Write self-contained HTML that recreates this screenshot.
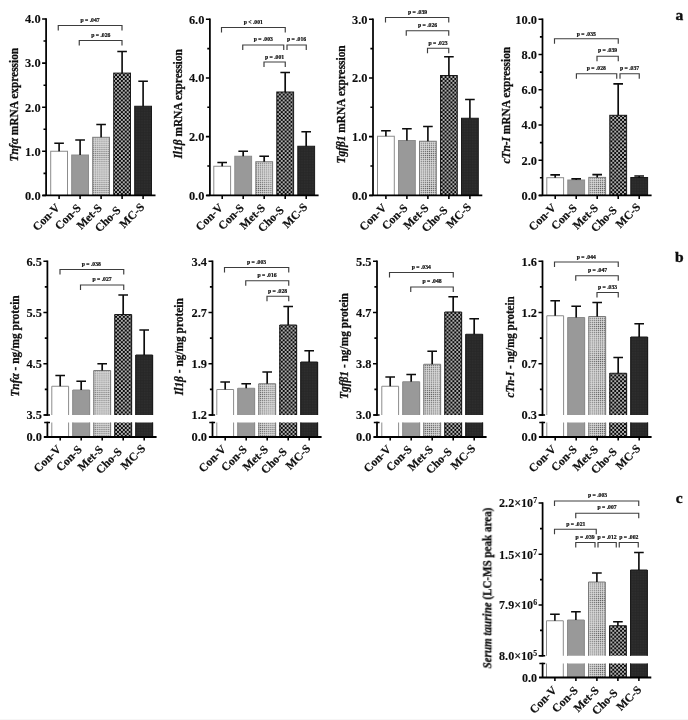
<!DOCTYPE html>
<html lang="en"><head><meta charset="utf-8"><title>Figure</title>
<style>
html,body{margin:0;padding:0;background:#fff}
svg{display:block;will-change:transform}
text{font-family:"Liberation Serif",serif;fill:#111}
.t{font-size:13px;font-weight:bold;stroke:#111;stroke-width:0.12px}
.x{font-size:11.6px;font-weight:bold;fill:#111;stroke:#111;stroke-width:0.2px}
.p{font-size:5.7px;font-weight:bold;fill:#111;stroke:#111;stroke-width:0.22px}
.y{font-size:12.7px;font-weight:bold;stroke:#111;stroke-width:0.3px}
.i{font-style:italic}
.s{font-size:8.5px}
.L{font-size:15.5px;font-weight:bold;stroke:#111;stroke-width:0.4px}
</style></head><body>
<svg width="688" height="720" viewBox="0 0 688 720">
<defs>
<pattern id="p3" width="2.06" height="2.06" patternUnits="userSpaceOnUse"><rect width="2.06" height="2.06" fill="#e0e0e0"/><rect x="0.5" y="0.5" width="1.06" height="1.06" fill="#5a5a5a"/></pattern>
<pattern id="p4" width="3.9" height="3.9" patternUnits="userSpaceOnUse"><rect width="3.9" height="3.9" fill="#0a0a0a"/><circle cx="0.975" cy="0.975" r="0.86" fill="#fff"/><circle cx="2.925" cy="2.925" r="0.86" fill="#fff"/></pattern>
<pattern id="p5" width="1.6" height="1.6" patternUnits="userSpaceOnUse"><rect width="1.6" height="1.6" fill="#222"/><rect x="0.4" y="0.4" width="0.6" height="0.6" fill="#555"/></pattern>
<filter id="soft" x="0" y="0" width="688" height="720" filterUnits="userSpaceOnUse"><feGaussianBlur stdDeviation="0.3"/></filter>
</defs>
<rect width="688" height="720" fill="#fff"/>
<rect x="0" y="719" width="688" height="1" fill="#f6f6f6"/>
<g>
<rect x="50.70" y="151.25" width="16.80" height="44.15" fill="#fff" stroke="#8c8c8c" stroke-width="1"/>
<rect x="71.70" y="155.00" width="16.80" height="40.40" fill="#999" stroke="#8c8c8c" stroke-width="1"/>
<rect x="92.70" y="137.30" width="16.80" height="58.10" fill="url(#p3)" stroke="#7a7a7a" stroke-width="1"/>
<rect x="113.70" y="73.10" width="16.80" height="122.30" fill="url(#p4)" stroke="#1a1a1a" stroke-width="1"/>
<rect x="134.70" y="106.25" width="16.80" height="89.15" fill="url(#p5)" stroke="#1a1a1a" stroke-width="1"/>
<rect x="213.80" y="166.25" width="16.80" height="29.15" fill="#fff" stroke="#8c8c8c" stroke-width="1"/>
<rect x="234.80" y="156.25" width="16.80" height="39.15" fill="#999" stroke="#8c8c8c" stroke-width="1"/>
<rect x="255.80" y="161.75" width="16.80" height="33.65" fill="url(#p3)" stroke="#7a7a7a" stroke-width="1"/>
<rect x="276.80" y="92.00" width="16.80" height="103.40" fill="url(#p4)" stroke="#1a1a1a" stroke-width="1"/>
<rect x="297.80" y="146.25" width="16.80" height="49.15" fill="url(#p5)" stroke="#1a1a1a" stroke-width="1"/>
<rect x="377.50" y="136.25" width="16.80" height="59.15" fill="#fff" stroke="#8c8c8c" stroke-width="1"/>
<rect x="398.50" y="140.50" width="16.80" height="54.90" fill="#999" stroke="#8c8c8c" stroke-width="1"/>
<rect x="419.50" y="141.25" width="16.80" height="54.15" fill="url(#p3)" stroke="#7a7a7a" stroke-width="1"/>
<rect x="440.50" y="75.50" width="16.80" height="119.90" fill="url(#p4)" stroke="#1a1a1a" stroke-width="1"/>
<rect x="461.50" y="118.25" width="16.80" height="77.15" fill="url(#p5)" stroke="#1a1a1a" stroke-width="1"/>
<rect x="546.80" y="177.70" width="16.80" height="17.70" fill="#fff" stroke="#8c8c8c" stroke-width="1"/>
<rect x="567.80" y="180.00" width="16.80" height="15.40" fill="#999" stroke="#8c8c8c" stroke-width="1"/>
<rect x="588.80" y="177.40" width="16.80" height="18.00" fill="url(#p3)" stroke="#7a7a7a" stroke-width="1"/>
<rect x="609.80" y="115.30" width="16.80" height="80.10" fill="url(#p4)" stroke="#1a1a1a" stroke-width="1"/>
<rect x="630.80" y="177.50" width="16.80" height="17.90" fill="url(#p5)" stroke="#1a1a1a" stroke-width="1"/>
<rect x="51.30" y="386.25" width="17.80" height="28.75" fill="#fff"/>
<rect x="51.30" y="422.50" width="17.80" height="14.50" fill="#fff"/>
<path d="M51.80 415.00V386.25H68.60V415.00M51.80 422.50V437.00M68.60 422.50V437.00" fill="none" stroke="#8c8c8c" stroke-width="1"/>
<rect x="72.30" y="390.00" width="17.80" height="25.00" fill="#999"/>
<rect x="72.30" y="422.50" width="17.80" height="14.50" fill="#999"/>
<path d="M72.80 415.00V390.00H89.60V415.00M72.80 422.50V437.00M89.60 422.50V437.00" fill="none" stroke="#8c8c8c" stroke-width="1"/>
<rect x="93.30" y="370.50" width="17.80" height="44.50" fill="url(#p3)"/>
<rect x="93.30" y="422.50" width="17.80" height="14.50" fill="url(#p3)"/>
<path d="M93.80 415.00V370.50H110.60V415.00M93.80 422.50V437.00M110.60 422.50V437.00" fill="none" stroke="#7a7a7a" stroke-width="1"/>
<rect x="114.30" y="314.50" width="17.80" height="100.50" fill="url(#p4)"/>
<rect x="114.30" y="422.50" width="17.80" height="14.50" fill="url(#p4)"/>
<path d="M114.80 415.00V314.50H131.60V415.00M114.80 422.50V437.00M131.60 422.50V437.00" fill="none" stroke="#1a1a1a" stroke-width="1"/>
<rect x="135.30" y="355.00" width="17.80" height="60.00" fill="url(#p5)"/>
<rect x="135.30" y="422.50" width="17.80" height="14.50" fill="url(#p5)"/>
<path d="M135.80 415.00V355.00H152.60V415.00M135.80 422.50V437.00M152.60 422.50V437.00" fill="none" stroke="#1a1a1a" stroke-width="1"/>
<rect x="216.30" y="389.50" width="17.80" height="25.50" fill="#fff"/>
<rect x="216.30" y="422.50" width="17.80" height="14.50" fill="#fff"/>
<path d="M216.80 415.00V389.50H233.60V415.00M216.80 422.50V437.00M233.60 422.50V437.00" fill="none" stroke="#8c8c8c" stroke-width="1"/>
<rect x="237.30" y="388.25" width="17.80" height="26.75" fill="#999"/>
<rect x="237.30" y="422.50" width="17.80" height="14.50" fill="#999"/>
<path d="M237.80 415.00V388.25H254.60V415.00M237.80 422.50V437.00M254.60 422.50V437.00" fill="none" stroke="#8c8c8c" stroke-width="1"/>
<rect x="258.30" y="383.75" width="17.80" height="31.25" fill="url(#p3)"/>
<rect x="258.30" y="422.50" width="17.80" height="14.50" fill="url(#p3)"/>
<path d="M258.80 415.00V383.75H275.60V415.00M258.80 422.50V437.00M275.60 422.50V437.00" fill="none" stroke="#7a7a7a" stroke-width="1"/>
<rect x="279.30" y="325.00" width="17.80" height="90.00" fill="url(#p4)"/>
<rect x="279.30" y="422.50" width="17.80" height="14.50" fill="url(#p4)"/>
<path d="M279.80 415.00V325.00H296.60V415.00M279.80 422.50V437.00M296.60 422.50V437.00" fill="none" stroke="#1a1a1a" stroke-width="1"/>
<rect x="300.30" y="362.00" width="17.80" height="53.00" fill="url(#p5)"/>
<rect x="300.30" y="422.50" width="17.80" height="14.50" fill="url(#p5)"/>
<path d="M300.80 415.00V362.00H317.60V415.00M300.80 422.50V437.00M317.60 422.50V437.00" fill="none" stroke="#1a1a1a" stroke-width="1"/>
<rect x="381.30" y="386.25" width="17.80" height="28.75" fill="#fff"/>
<rect x="381.30" y="422.50" width="17.80" height="14.50" fill="#fff"/>
<path d="M381.80 415.00V386.25H398.60V415.00M381.80 422.50V437.00M398.60 422.50V437.00" fill="none" stroke="#8c8c8c" stroke-width="1"/>
<rect x="402.30" y="381.75" width="17.80" height="33.25" fill="#999"/>
<rect x="402.30" y="422.50" width="17.80" height="14.50" fill="#999"/>
<path d="M402.80 415.00V381.75H419.60V415.00M402.80 422.50V437.00M419.60 422.50V437.00" fill="none" stroke="#8c8c8c" stroke-width="1"/>
<rect x="423.30" y="364.25" width="17.80" height="50.75" fill="url(#p3)"/>
<rect x="423.30" y="422.50" width="17.80" height="14.50" fill="url(#p3)"/>
<path d="M423.80 415.00V364.25H440.60V415.00M423.80 422.50V437.00M440.60 422.50V437.00" fill="none" stroke="#7a7a7a" stroke-width="1"/>
<rect x="444.30" y="312.00" width="17.80" height="103.00" fill="url(#p4)"/>
<rect x="444.30" y="422.50" width="17.80" height="14.50" fill="url(#p4)"/>
<path d="M444.80 415.00V312.00H461.60V415.00M444.80 422.50V437.00M461.60 422.50V437.00" fill="none" stroke="#1a1a1a" stroke-width="1"/>
<rect x="465.30" y="334.25" width="17.80" height="80.75" fill="url(#p5)"/>
<rect x="465.30" y="422.50" width="17.80" height="14.50" fill="url(#p5)"/>
<path d="M465.80 415.00V334.25H482.60V415.00M465.80 422.50V437.00M482.60 422.50V437.00" fill="none" stroke="#1a1a1a" stroke-width="1"/>
<rect x="546.30" y="315.75" width="17.80" height="99.25" fill="#fff"/>
<rect x="546.30" y="422.50" width="17.80" height="14.50" fill="#fff"/>
<path d="M546.80 415.00V315.75H563.60V415.00M546.80 422.50V437.00M563.60 422.50V437.00" fill="none" stroke="#8c8c8c" stroke-width="1"/>
<rect x="567.30" y="317.50" width="17.80" height="97.50" fill="#999"/>
<rect x="567.30" y="422.50" width="17.80" height="14.50" fill="#999"/>
<path d="M567.80 415.00V317.50H584.60V415.00M567.80 422.50V437.00M584.60 422.50V437.00" fill="none" stroke="#8c8c8c" stroke-width="1"/>
<rect x="588.30" y="316.50" width="17.80" height="98.50" fill="url(#p3)"/>
<rect x="588.30" y="422.50" width="17.80" height="14.50" fill="url(#p3)"/>
<path d="M588.80 415.00V316.50H605.60V415.00M588.80 422.50V437.00M605.60 422.50V437.00" fill="none" stroke="#7a7a7a" stroke-width="1"/>
<rect x="609.30" y="373.25" width="17.80" height="41.75" fill="url(#p4)"/>
<rect x="609.30" y="422.50" width="17.80" height="14.50" fill="url(#p4)"/>
<path d="M609.80 415.00V373.25H626.60V415.00M609.80 422.50V437.00M626.60 422.50V437.00" fill="none" stroke="#1a1a1a" stroke-width="1"/>
<rect x="630.30" y="337.00" width="17.80" height="78.00" fill="url(#p5)"/>
<rect x="630.30" y="422.50" width="17.80" height="14.50" fill="url(#p5)"/>
<path d="M630.80 415.00V337.00H647.60V415.00M630.80 422.50V437.00M647.60 422.50V437.00" fill="none" stroke="#1a1a1a" stroke-width="1"/>
<rect x="546.00" y="620.75" width="17.80" height="35.00" fill="#fff"/>
<rect x="546.00" y="663.50" width="17.80" height="14.00" fill="#fff"/>
<path d="M546.50 655.75V620.75H563.30V655.75M546.50 663.50V677.50M563.30 663.50V677.50" fill="none" stroke="#8c8c8c" stroke-width="1"/>
<rect x="567.00" y="620.00" width="17.80" height="35.75" fill="#999"/>
<rect x="567.00" y="663.50" width="17.80" height="14.00" fill="#999"/>
<path d="M567.50 655.75V620.00H584.30V655.75M567.50 663.50V677.50M584.30 663.50V677.50" fill="none" stroke="#8c8c8c" stroke-width="1"/>
<rect x="588.00" y="582.00" width="17.80" height="73.75" fill="url(#p3)"/>
<rect x="588.00" y="663.50" width="17.80" height="14.00" fill="url(#p3)"/>
<path d="M588.50 655.75V582.00H605.30V655.75M588.50 663.50V677.50M605.30 663.50V677.50" fill="none" stroke="#7a7a7a" stroke-width="1"/>
<rect x="609.00" y="625.75" width="17.80" height="30.00" fill="url(#p4)"/>
<rect x="609.00" y="663.50" width="17.80" height="14.00" fill="url(#p4)"/>
<path d="M609.50 655.75V625.75H626.30V655.75M609.50 663.50V677.50M626.30 663.50V677.50" fill="none" stroke="#1a1a1a" stroke-width="1"/>
<rect x="630.00" y="570.00" width="17.80" height="85.75" fill="url(#p5)"/>
<rect x="630.00" y="663.50" width="17.80" height="14.00" fill="url(#p5)"/>
<path d="M630.50 655.75V570.00H647.30V655.75M630.50 663.50V677.50M647.30 663.50V677.50" fill="none" stroke="#1a1a1a" stroke-width="1"/>
</g>
<g filter="url(#soft)">
<path d="M59.10 151.25V143.25M54.30 143.25H63.90" stroke="#0a0a0a" stroke-width="1.65" fill="none"/>
<path d="M80.10 155.00V140.00M75.30 140.00H84.90" stroke="#0a0a0a" stroke-width="1.65" fill="none"/>
<path d="M101.10 137.30V124.50M96.30 124.50H105.90" stroke="#0a0a0a" stroke-width="1.65" fill="none"/>
<path d="M122.10 73.10V51.50M117.30 51.50H126.90" stroke="#0a0a0a" stroke-width="1.65" fill="none"/>
<path d="M143.10 106.25V81.25M138.30 81.25H147.90" stroke="#0a0a0a" stroke-width="1.65" fill="none"/>
<path d="M46.10 18.20V195.40" stroke="#050505" stroke-width="1.75" fill="none"/>
<path d="M42.50 195.40H155.50" stroke="#050505" stroke-width="1.8" fill="none"/>
<path d="M42.10 19.00H46.10M42.10 63.10H46.10M42.10 107.20H46.10M42.10 151.30H46.10M42.10 195.40H46.10M43.50 41.05H46.10M43.50 85.15H46.10M43.50 129.25H46.10M43.50 173.35H46.10" stroke="#050505" stroke-width="1.55" fill="none"/>
<text transform="translate(40.60 23.30) scale(0.955 1)" text-anchor="end" class="t">4.0</text>
<text transform="translate(40.60 67.40) scale(0.955 1)" text-anchor="end" class="t">3.0</text>
<text transform="translate(40.60 111.50) scale(0.955 1)" text-anchor="end" class="t">2.0</text>
<text transform="translate(40.60 155.60) scale(0.955 1)" text-anchor="end" class="t">1.0</text>
<text transform="translate(40.60 199.70) scale(0.955 1)" text-anchor="end" class="t">0.0</text>
<path d="M59.10 195.40V199.00M80.10 195.40V199.00M101.10 195.40V199.00M122.10 195.40V199.00M143.10 195.40V199.00" stroke="#050505" stroke-width="1.55" fill="none"/>
<text transform="translate(60.50 208.20) rotate(-45)" text-anchor="end" class="x">Con-V</text>
<text transform="translate(81.50 208.60) rotate(-45)" text-anchor="end" class="x">Con-S</text>
<text transform="translate(102.60 208.60) rotate(-45)" text-anchor="end" class="x">Met-S</text>
<text transform="translate(121.40 210.90) rotate(-45)" text-anchor="end" class="x">Cho-S</text>
<text transform="translate(145.00 207.70) rotate(-45)" text-anchor="end" class="x">MC-S</text>
<path d="M58.25 30.50V25.50H122.00V30.50" stroke="#3c3c3c" stroke-width="1.15" fill="none"/>
<text x="90.00" y="21.90" text-anchor="middle" class="p">p = .047</text>
<path d="M79.25 45.50V40.50H122.00V45.50" stroke="#3c3c3c" stroke-width="1.15" fill="none"/>
<text x="100.75" y="36.90" text-anchor="middle" class="p">p = .026</text>
<text transform="translate(17.60 104.60) rotate(-90) scale(0.898 1)" text-anchor="middle" class="y"><tspan class="i">Tnfα</tspan> mRNA expression</text>
<path d="M222.20 166.25V162.50M217.40 162.50H227.00" stroke="#0a0a0a" stroke-width="1.65" fill="none"/>
<path d="M243.20 156.25V151.25M238.40 151.25H248.00" stroke="#0a0a0a" stroke-width="1.65" fill="none"/>
<path d="M264.20 161.75V156.25M259.40 156.25H269.00" stroke="#0a0a0a" stroke-width="1.65" fill="none"/>
<path d="M285.20 92.00V72.50M280.40 72.50H290.00" stroke="#0a0a0a" stroke-width="1.65" fill="none"/>
<path d="M306.20 146.25V131.75M301.40 131.75H311.00" stroke="#0a0a0a" stroke-width="1.65" fill="none"/>
<path d="M209.90 18.45V195.40" stroke="#050505" stroke-width="1.75" fill="none"/>
<path d="M206.30 195.40H318.60" stroke="#050505" stroke-width="1.8" fill="none"/>
<path d="M205.90 19.25H209.90M205.90 78.00H209.90M205.90 136.60H209.90M205.90 195.40H209.90M207.30 48.62H209.90M207.30 107.30H209.90M207.30 166.00H209.90" stroke="#050505" stroke-width="1.55" fill="none"/>
<text transform="translate(204.40 23.55) scale(0.955 1)" text-anchor="end" class="t">6.0</text>
<text transform="translate(204.40 82.30) scale(0.955 1)" text-anchor="end" class="t">4.0</text>
<text transform="translate(204.40 140.90) scale(0.955 1)" text-anchor="end" class="t">2.0</text>
<text transform="translate(204.40 199.70) scale(0.955 1)" text-anchor="end" class="t">0.0</text>
<path d="M222.20 195.40V199.00M243.20 195.40V199.00M264.20 195.40V199.00M285.20 195.40V199.00M306.20 195.40V199.00" stroke="#050505" stroke-width="1.55" fill="none"/>
<text transform="translate(223.60 208.20) rotate(-45)" text-anchor="end" class="x">Con-V</text>
<text transform="translate(244.60 208.60) rotate(-45)" text-anchor="end" class="x">Con-S</text>
<text transform="translate(265.70 208.60) rotate(-45)" text-anchor="end" class="x">Met-S</text>
<text transform="translate(284.50 210.90) rotate(-45)" text-anchor="end" class="x">Cho-S</text>
<text transform="translate(308.10 207.70) rotate(-45)" text-anchor="end" class="x">MC-S</text>
<path d="M221.50 32.50V27.50H285.25V32.50" stroke="#3c3c3c" stroke-width="1.15" fill="none"/>
<text x="253.25" y="23.65" text-anchor="middle" class="p">p &lt; .001</text>
<path d="M242.75 50.00V45.00H283.75V50.00" stroke="#3c3c3c" stroke-width="1.15" fill="none"/>
<text x="263.25" y="41.15" text-anchor="middle" class="p">p = .003</text>
<path d="M287.00 50.00V45.00H306.25V50.00" stroke="#3c3c3c" stroke-width="1.15" fill="none"/>
<text x="296.50" y="41.15" text-anchor="middle" class="p">p = .016</text>
<path d="M264.00 67.00V62.00H285.25V67.00" stroke="#3c3c3c" stroke-width="1.15" fill="none"/>
<text x="274.50" y="58.65" text-anchor="middle" class="p">p = .001</text>
<text transform="translate(182.10 103.90) rotate(-90) scale(0.898 1)" text-anchor="middle" class="y"><tspan class="i">Il1β</tspan> mRNA expression</text>
<path d="M385.90 136.25V130.75M381.10 130.75H390.70" stroke="#0a0a0a" stroke-width="1.65" fill="none"/>
<path d="M406.90 140.50V128.75M402.10 128.75H411.70" stroke="#0a0a0a" stroke-width="1.65" fill="none"/>
<path d="M427.90 141.25V126.50M423.10 126.50H432.70" stroke="#0a0a0a" stroke-width="1.65" fill="none"/>
<path d="M448.90 75.50V56.75M444.10 56.75H453.70" stroke="#0a0a0a" stroke-width="1.65" fill="none"/>
<path d="M469.90 118.25V99.50M465.10 99.50H474.70" stroke="#0a0a0a" stroke-width="1.65" fill="none"/>
<path d="M373.00 18.45V195.40" stroke="#050505" stroke-width="1.75" fill="none"/>
<path d="M369.40 195.40H482.30" stroke="#050505" stroke-width="1.8" fill="none"/>
<path d="M369.00 19.25H373.00M369.00 78.00H373.00M369.00 136.60H373.00M369.00 195.40H373.00M370.40 48.62H373.00M370.40 107.30H373.00M370.40 166.00H373.00" stroke="#050505" stroke-width="1.55" fill="none"/>
<text transform="translate(367.50 23.55) scale(0.955 1)" text-anchor="end" class="t">3.0</text>
<text transform="translate(367.50 82.30) scale(0.955 1)" text-anchor="end" class="t">2.0</text>
<text transform="translate(367.50 140.90) scale(0.955 1)" text-anchor="end" class="t">1.0</text>
<text transform="translate(367.50 199.70) scale(0.955 1)" text-anchor="end" class="t">0.0</text>
<path d="M385.90 195.40V199.00M406.90 195.40V199.00M427.90 195.40V199.00M448.90 195.40V199.00M469.90 195.40V199.00" stroke="#050505" stroke-width="1.55" fill="none"/>
<text transform="translate(387.30 208.20) rotate(-45)" text-anchor="end" class="x">Con-V</text>
<text transform="translate(408.30 208.60) rotate(-45)" text-anchor="end" class="x">Con-S</text>
<text transform="translate(429.40 208.60) rotate(-45)" text-anchor="end" class="x">Met-S</text>
<text transform="translate(448.20 210.90) rotate(-45)" text-anchor="end" class="x">Cho-S</text>
<text transform="translate(471.80 207.70) rotate(-45)" text-anchor="end" class="x">MC-S</text>
<path d="M385.50 22.50V17.50H448.75V22.50" stroke="#3c3c3c" stroke-width="1.15" fill="none"/>
<text x="417.50" y="13.90" text-anchor="middle" class="p">p = .039</text>
<path d="M406.25 35.75V30.75H448.75V35.75" stroke="#3c3c3c" stroke-width="1.15" fill="none"/>
<text x="427.50" y="26.90" text-anchor="middle" class="p">p = .026</text>
<path d="M427.50 53.25V48.25H448.75V53.25" stroke="#3c3c3c" stroke-width="1.15" fill="none"/>
<text x="438.00" y="44.65" text-anchor="middle" class="p">p = .023</text>
<text transform="translate(345.10 104.40) rotate(-90) scale(0.898 1)" text-anchor="middle" class="y"><tspan class="i">Tgfβ1</tspan> mRNA expression</text>
<path d="M555.20 177.70V174.80M550.40 174.80H560.00" stroke="#0a0a0a" stroke-width="1.65" fill="none"/>
<path d="M576.20 180.00V178.80M571.40 178.80H581.00" stroke="#0a0a0a" stroke-width="1.65" fill="none"/>
<path d="M597.20 177.40V174.60M592.40 174.60H602.00" stroke="#0a0a0a" stroke-width="1.65" fill="none"/>
<path d="M618.20 115.30V83.90M613.40 83.90H623.00" stroke="#0a0a0a" stroke-width="1.65" fill="none"/>
<path d="M639.20 177.50V176.00M634.40 176.00H644.00" stroke="#0a0a0a" stroke-width="1.65" fill="none"/>
<path d="M542.50 18.45V195.40" stroke="#050505" stroke-width="1.75" fill="none"/>
<path d="M538.90 195.40H651.60" stroke="#050505" stroke-width="1.8" fill="none"/>
<path d="M538.50 19.25H542.50M538.50 54.50H542.50M538.50 89.75H542.50M538.50 125.00H542.50M538.50 160.20H542.50M538.50 195.40H542.50M539.90 36.88H542.50M539.90 72.12H542.50M539.90 107.38H542.50M539.90 142.60H542.50M539.90 177.80H542.50" stroke="#050505" stroke-width="1.55" fill="none"/>
<text transform="translate(537.00 23.55) scale(0.955 1)" text-anchor="end" class="t">10.0</text>
<text transform="translate(537.00 58.80) scale(0.955 1)" text-anchor="end" class="t">8.0</text>
<text transform="translate(537.00 94.05) scale(0.955 1)" text-anchor="end" class="t">6.0</text>
<text transform="translate(537.00 129.30) scale(0.955 1)" text-anchor="end" class="t">4.0</text>
<text transform="translate(537.00 164.50) scale(0.955 1)" text-anchor="end" class="t">2.0</text>
<text transform="translate(537.00 199.70) scale(0.955 1)" text-anchor="end" class="t">0.0</text>
<path d="M555.20 195.40V199.00M576.20 195.40V199.00M597.20 195.40V199.00M618.20 195.40V199.00M639.20 195.40V199.00" stroke="#050505" stroke-width="1.55" fill="none"/>
<text transform="translate(556.60 208.20) rotate(-45)" text-anchor="end" class="x">Con-V</text>
<text transform="translate(577.60 208.60) rotate(-45)" text-anchor="end" class="x">Con-S</text>
<text transform="translate(598.70 208.60) rotate(-45)" text-anchor="end" class="x">Met-S</text>
<text transform="translate(617.50 210.90) rotate(-45)" text-anchor="end" class="x">Cho-S</text>
<text transform="translate(641.10 207.70) rotate(-45)" text-anchor="end" class="x">MC-S</text>
<path d="M554.50 43.75V38.75H618.25V43.75" stroke="#3c3c3c" stroke-width="1.15" fill="none"/>
<text x="586.25" y="35.65" text-anchor="middle" class="p">p = .035</text>
<path d="M597.00 61.25V56.25H618.25V61.25" stroke="#3c3c3c" stroke-width="1.15" fill="none"/>
<text x="607.50" y="51.90" text-anchor="middle" class="p">p = .039</text>
<path d="M576.40 78.75V73.75H616.75V78.75" stroke="#3c3c3c" stroke-width="1.15" fill="none"/>
<text x="596.25" y="70.15" text-anchor="middle" class="p">p = .028</text>
<path d="M620.00 78.75V73.75H639.25V78.75" stroke="#3c3c3c" stroke-width="1.15" fill="none"/>
<text x="629.50" y="70.15" text-anchor="middle" class="p">p = .037</text>
<text transform="translate(510.40 105.20) rotate(-90) scale(0.898 1)" text-anchor="middle" class="y"><tspan class="i">cTn-I</tspan> mRNA expression</text>
<path d="M60.20 386.25V375.50M55.40 375.50H65.00" stroke="#0a0a0a" stroke-width="1.65" fill="none"/>
<path d="M81.20 390.00V381.25M76.40 381.25H86.00" stroke="#0a0a0a" stroke-width="1.65" fill="none"/>
<path d="M102.20 370.50V363.75M97.40 363.75H107.00" stroke="#0a0a0a" stroke-width="1.65" fill="none"/>
<path d="M123.20 314.50V295.00M118.40 295.00H128.00" stroke="#0a0a0a" stroke-width="1.65" fill="none"/>
<path d="M144.20 355.00V330.00M139.40 330.00H149.00" stroke="#0a0a0a" stroke-width="1.65" fill="none"/>
<path d="M47.40 260.45V415.80M47.40 421.70V437.00" stroke="#050505" stroke-width="1.75" fill="none"/>
<path d="M44.20 415.00H50.00M44.20 422.50H50.00" stroke="#050505" stroke-width="1.55" fill="none"/>
<path d="M43.80 437.00H156.60" stroke="#050505" stroke-width="1.8" fill="none"/>
<path d="M43.40 261.25H47.40M43.40 312.50H47.40M43.40 363.75H47.40M43.40 415.00H47.40M44.80 286.88H47.40M44.80 338.12H47.40M44.80 389.38H47.40" stroke="#050505" stroke-width="1.55" fill="none"/>
<text transform="translate(41.90 265.55) scale(0.955 1)" text-anchor="end" class="t">6.5</text>
<text transform="translate(41.90 316.80) scale(0.955 1)" text-anchor="end" class="t">5.5</text>
<text transform="translate(41.90 368.05) scale(0.955 1)" text-anchor="end" class="t">4.5</text>
<text transform="translate(41.90 419.30) scale(0.955 1)" text-anchor="end" class="t">3.5</text>
<text transform="translate(41.90 441.30) scale(0.955 1)" text-anchor="end" class="t">0.0</text>
<path d="M60.20 437.00V440.60M81.20 437.00V440.60M102.20 437.00V440.60M123.20 437.00V440.60M144.20 437.00V440.60" stroke="#050505" stroke-width="1.55" fill="none"/>
<text transform="translate(61.60 449.80) rotate(-45)" text-anchor="end" class="x">Con-V</text>
<text transform="translate(82.60 450.20) rotate(-45)" text-anchor="end" class="x">Con-S</text>
<text transform="translate(103.70 450.20) rotate(-45)" text-anchor="end" class="x">Met-S</text>
<text transform="translate(122.50 452.50) rotate(-45)" text-anchor="end" class="x">Cho-S</text>
<text transform="translate(146.10 449.30) rotate(-45)" text-anchor="end" class="x">MC-S</text>
<path d="M60.00 274.50V269.50H123.75V274.50" stroke="#3c3c3c" stroke-width="1.15" fill="none"/>
<text x="91.25" y="266.15" text-anchor="middle" class="p">p = .038</text>
<path d="M80.50 290.00V285.00H123.75V290.00" stroke="#3c3c3c" stroke-width="1.15" fill="none"/>
<text x="102.00" y="281.40" text-anchor="middle" class="p">p = .027</text>
<text transform="translate(18.60 346.00) rotate(-90) scale(0.898 1)" text-anchor="middle" class="y"><tspan class="i">Tnfα</tspan> - ng/mg protein</text>
<path d="M225.20 389.50V382.00M220.40 382.00H230.00" stroke="#0a0a0a" stroke-width="1.65" fill="none"/>
<path d="M246.20 388.25V383.75M241.40 383.75H251.00" stroke="#0a0a0a" stroke-width="1.65" fill="none"/>
<path d="M267.20 383.75V372.00M262.40 372.00H272.00" stroke="#0a0a0a" stroke-width="1.65" fill="none"/>
<path d="M288.20 325.00V306.50M283.40 306.50H293.00" stroke="#0a0a0a" stroke-width="1.65" fill="none"/>
<path d="M309.20 362.00V350.75M304.40 350.75H314.00" stroke="#0a0a0a" stroke-width="1.65" fill="none"/>
<path d="M212.50 260.45V415.80M212.50 421.70V437.00" stroke="#050505" stroke-width="1.75" fill="none"/>
<path d="M209.30 415.00H215.10M209.30 422.50H215.10" stroke="#050505" stroke-width="1.55" fill="none"/>
<path d="M208.90 437.00H321.60" stroke="#050505" stroke-width="1.8" fill="none"/>
<path d="M208.50 261.25H212.50M208.50 312.50H212.50M208.50 363.75H212.50M208.50 415.00H212.50M209.90 286.88H212.50M209.90 338.12H212.50M209.90 389.38H212.50" stroke="#050505" stroke-width="1.55" fill="none"/>
<text transform="translate(207.00 265.55) scale(0.955 1)" text-anchor="end" class="t">3.4</text>
<text transform="translate(207.00 316.80) scale(0.955 1)" text-anchor="end" class="t">2.7</text>
<text transform="translate(207.00 368.05) scale(0.955 1)" text-anchor="end" class="t">1.9</text>
<text transform="translate(207.00 419.30) scale(0.955 1)" text-anchor="end" class="t">1.2</text>
<text transform="translate(207.00 441.30) scale(0.955 1)" text-anchor="end" class="t">0.0</text>
<path d="M225.20 437.00V440.60M246.20 437.00V440.60M267.20 437.00V440.60M288.20 437.00V440.60M309.20 437.00V440.60" stroke="#050505" stroke-width="1.55" fill="none"/>
<text transform="translate(226.60 449.80) rotate(-45)" text-anchor="end" class="x">Con-V</text>
<text transform="translate(247.60 450.20) rotate(-45)" text-anchor="end" class="x">Con-S</text>
<text transform="translate(268.70 450.20) rotate(-45)" text-anchor="end" class="x">Met-S</text>
<text transform="translate(287.50 452.50) rotate(-45)" text-anchor="end" class="x">Cho-S</text>
<text transform="translate(311.10 449.30) rotate(-45)" text-anchor="end" class="x">MC-S</text>
<path d="M224.50 272.50V267.50H288.75V272.50" stroke="#3c3c3c" stroke-width="1.15" fill="none"/>
<text x="256.50" y="263.65" text-anchor="middle" class="p">p = .003</text>
<path d="M245.75 285.75V280.75H288.75V285.75" stroke="#3c3c3c" stroke-width="1.15" fill="none"/>
<text x="267.00" y="276.90" text-anchor="middle" class="p">p = .016</text>
<path d="M267.00 301.25V296.25H288.75V301.25" stroke="#3c3c3c" stroke-width="1.15" fill="none"/>
<text x="277.50" y="292.65" text-anchor="middle" class="p">p = .028</text>
<text transform="translate(183.30 346.70) rotate(-90) scale(0.898 1)" text-anchor="middle" class="y"><tspan class="i">Il1β</tspan> - ng/mg protein</text>
<path d="M390.20 386.25V377.00M385.40 377.00H395.00" stroke="#0a0a0a" stroke-width="1.65" fill="none"/>
<path d="M411.20 381.75V374.50M406.40 374.50H416.00" stroke="#0a0a0a" stroke-width="1.65" fill="none"/>
<path d="M432.20 364.25V351.25M427.40 351.25H437.00" stroke="#0a0a0a" stroke-width="1.65" fill="none"/>
<path d="M453.20 312.00V296.75M448.40 296.75H458.00" stroke="#0a0a0a" stroke-width="1.65" fill="none"/>
<path d="M474.20 334.25V318.75M469.40 318.75H479.00" stroke="#0a0a0a" stroke-width="1.65" fill="none"/>
<path d="M377.00 260.45V415.80M377.00 421.70V437.00" stroke="#050505" stroke-width="1.75" fill="none"/>
<path d="M373.80 415.00H379.60M373.80 422.50H379.60" stroke="#050505" stroke-width="1.55" fill="none"/>
<path d="M373.40 437.00H486.60" stroke="#050505" stroke-width="1.8" fill="none"/>
<path d="M373.00 261.25H377.00M373.00 312.50H377.00M373.00 363.75H377.00M373.00 415.00H377.00M374.40 286.88H377.00M374.40 338.12H377.00M374.40 389.38H377.00" stroke="#050505" stroke-width="1.55" fill="none"/>
<text transform="translate(371.50 265.55) scale(0.955 1)" text-anchor="end" class="t">5.5</text>
<text transform="translate(371.50 316.80) scale(0.955 1)" text-anchor="end" class="t">4.7</text>
<text transform="translate(371.50 368.05) scale(0.955 1)" text-anchor="end" class="t">3.8</text>
<text transform="translate(371.50 419.30) scale(0.955 1)" text-anchor="end" class="t">3.0</text>
<text transform="translate(371.50 441.30) scale(0.955 1)" text-anchor="end" class="t">0.0</text>
<path d="M390.20 437.00V440.60M411.20 437.00V440.60M432.20 437.00V440.60M453.20 437.00V440.60M474.20 437.00V440.60" stroke="#050505" stroke-width="1.55" fill="none"/>
<text transform="translate(391.60 449.80) rotate(-45)" text-anchor="end" class="x">Con-V</text>
<text transform="translate(412.60 450.20) rotate(-45)" text-anchor="end" class="x">Con-S</text>
<text transform="translate(433.70 450.20) rotate(-45)" text-anchor="end" class="x">Met-S</text>
<text transform="translate(452.50 452.50) rotate(-45)" text-anchor="end" class="x">Cho-S</text>
<text transform="translate(476.10 449.30) rotate(-45)" text-anchor="end" class="x">MC-S</text>
<path d="M389.50 277.50V272.50H453.25V277.50" stroke="#3c3c3c" stroke-width="1.15" fill="none"/>
<text x="421.25" y="268.90" text-anchor="middle" class="p">p = .034</text>
<path d="M410.75 292.00V287.00H453.25V292.00" stroke="#3c3c3c" stroke-width="1.15" fill="none"/>
<text x="432.00" y="283.15" text-anchor="middle" class="p">p = .048</text>
<text transform="translate(347.80 346.00) rotate(-90) scale(0.898 1)" text-anchor="middle" class="y"><tspan class="i">Tgfβ1</tspan> - ng/mg protein</text>
<path d="M555.20 315.75V300.75M550.40 300.75H560.00" stroke="#0a0a0a" stroke-width="1.65" fill="none"/>
<path d="M576.20 317.50V306.25M571.40 306.25H581.00" stroke="#0a0a0a" stroke-width="1.65" fill="none"/>
<path d="M597.20 316.50V302.50M592.40 302.50H602.00" stroke="#0a0a0a" stroke-width="1.65" fill="none"/>
<path d="M618.20 373.25V357.50M613.40 357.50H623.00" stroke="#0a0a0a" stroke-width="1.65" fill="none"/>
<path d="M639.20 337.00V323.75M634.40 323.75H644.00" stroke="#0a0a0a" stroke-width="1.65" fill="none"/>
<path d="M542.50 260.45V415.80M542.50 421.70V437.00" stroke="#050505" stroke-width="1.75" fill="none"/>
<path d="M539.30 415.00H545.10M539.30 422.50H545.10" stroke="#050505" stroke-width="1.55" fill="none"/>
<path d="M538.90 437.00H651.60" stroke="#050505" stroke-width="1.8" fill="none"/>
<path d="M538.50 261.25H542.50M538.50 312.50H542.50M538.50 363.75H542.50M538.50 415.00H542.50M539.90 286.88H542.50M539.90 338.12H542.50M539.90 389.38H542.50" stroke="#050505" stroke-width="1.55" fill="none"/>
<text transform="translate(537.00 265.55) scale(0.955 1)" text-anchor="end" class="t">1.6</text>
<text transform="translate(537.00 316.80) scale(0.955 1)" text-anchor="end" class="t">1.2</text>
<text transform="translate(537.00 368.05) scale(0.955 1)" text-anchor="end" class="t">0.7</text>
<text transform="translate(537.00 419.30) scale(0.955 1)" text-anchor="end" class="t">0.3</text>
<text transform="translate(537.00 441.30) scale(0.955 1)" text-anchor="end" class="t">0.0</text>
<path d="M555.20 437.00V440.60M576.20 437.00V440.60M597.20 437.00V440.60M618.20 437.00V440.60M639.20 437.00V440.60" stroke="#050505" stroke-width="1.55" fill="none"/>
<text transform="translate(556.60 449.80) rotate(-45)" text-anchor="end" class="x">Con-V</text>
<text transform="translate(577.60 450.20) rotate(-45)" text-anchor="end" class="x">Con-S</text>
<text transform="translate(598.70 450.20) rotate(-45)" text-anchor="end" class="x">Met-S</text>
<text transform="translate(617.50 452.50) rotate(-45)" text-anchor="end" class="x">Cho-S</text>
<text transform="translate(641.10 449.30) rotate(-45)" text-anchor="end" class="x">MC-S</text>
<path d="M554.50 267.00V262.00H618.25V267.00" stroke="#3c3c3c" stroke-width="1.15" fill="none"/>
<text x="586.25" y="258.65" text-anchor="middle" class="p">p = .044</text>
<path d="M575.75 280.75V275.75H618.25V280.75" stroke="#3c3c3c" stroke-width="1.15" fill="none"/>
<text x="597.50" y="272.40" text-anchor="middle" class="p">p = .047</text>
<path d="M597.00 297.50V292.50H618.25V297.50" stroke="#3c3c3c" stroke-width="1.15" fill="none"/>
<text x="607.50" y="288.90" text-anchor="middle" class="p">p = .033</text>
<text transform="translate(513.80 346.90) rotate(-90) scale(0.868 1)" text-anchor="middle" class="y"><tspan class="i">cTn-I</tspan> - ng/mg protein</text>
<path d="M554.90 620.75V614.25M550.10 614.25H559.70" stroke="#0a0a0a" stroke-width="1.65" fill="none"/>
<path d="M575.90 620.00V611.75M571.10 611.75H580.70" stroke="#0a0a0a" stroke-width="1.65" fill="none"/>
<path d="M596.90 582.00V573.00M592.10 573.00H601.70" stroke="#0a0a0a" stroke-width="1.65" fill="none"/>
<path d="M617.90 625.75V621.75M613.10 621.75H622.70" stroke="#0a0a0a" stroke-width="1.65" fill="none"/>
<path d="M638.90 570.00V552.50M634.10 552.50H643.70" stroke="#0a0a0a" stroke-width="1.65" fill="none"/>
<path d="M542.60 502.20V656.55M542.60 662.70V677.50" stroke="#050505" stroke-width="1.75" fill="none"/>
<path d="M539.40 655.75H545.20M539.40 663.50H545.20" stroke="#050505" stroke-width="1.55" fill="none"/>
<path d="M539.00 677.50H651.30" stroke="#050505" stroke-width="1.8" fill="none"/>
<path d="M538.60 503.00H542.60M538.60 554.25H542.60M538.60 605.00H542.60M538.60 655.75H542.60M540.00 528.62H542.60M540.00 579.62H542.60M540.00 630.38H542.60" stroke="#050505" stroke-width="1.55" fill="none"/>
<text transform="translate(537.10 507.30) scale(0.93 1)" text-anchor="end" class="t">2.2×10<tspan class="s" dy="-4">7</tspan></text>
<text transform="translate(537.10 558.55) scale(0.93 1)" text-anchor="end" class="t">1.5×10<tspan class="s" dy="-4">7</tspan></text>
<text transform="translate(537.10 609.30) scale(0.93 1)" text-anchor="end" class="t">7.9×10<tspan class="s" dy="-4">6</tspan></text>
<text transform="translate(537.10 660.05) scale(0.93 1)" text-anchor="end" class="t">8.0×10<tspan class="s" dy="-4">5</tspan></text>
<text transform="translate(537.10 681.80) scale(0.93 1)" text-anchor="end" class="t">0.0</text>
<path d="M554.90 677.50V681.10M575.90 677.50V681.10M596.90 677.50V681.10M617.90 677.50V681.10M638.90 677.50V681.10" stroke="#050505" stroke-width="1.55" fill="none"/>
<text transform="translate(557.50 690.90) rotate(-45)" text-anchor="end" class="x">Con-V</text>
<text transform="translate(578.50 691.30) rotate(-45)" text-anchor="end" class="x">Con-S</text>
<text transform="translate(599.60 691.30) rotate(-45)" text-anchor="end" class="x">Met-S</text>
<text transform="translate(618.40 693.60) rotate(-45)" text-anchor="end" class="x">Cho-S</text>
<text transform="translate(642.00 690.40) rotate(-45)" text-anchor="end" class="x">MC-S</text>
<path d="M554.50 506.00V501.00H638.75V506.00" stroke="#3c3c3c" stroke-width="1.15" fill="none"/>
<text x="597.50" y="497.10" text-anchor="middle" class="p">p = .003</text>
<path d="M575.75 518.25V513.25H638.75V518.25" stroke="#3c3c3c" stroke-width="1.15" fill="none"/>
<text x="607.00" y="509.40" text-anchor="middle" class="p">p = .007</text>
<path d="M554.50 534.25V529.25H596.25V534.25" stroke="#3c3c3c" stroke-width="1.15" fill="none"/>
<text x="575.75" y="525.65" text-anchor="middle" class="p">p = .021</text>
<path d="M575.75 547.50V542.50H595.00V547.50" stroke="#3c3c3c" stroke-width="1.15" fill="none"/>
<text x="585.00" y="539.40" text-anchor="middle" class="p">p = .039</text>
<path d="M598.00 547.50V542.50H616.25V547.50" stroke="#3c3c3c" stroke-width="1.15" fill="none"/>
<text x="607.00" y="539.40" text-anchor="middle" class="p">p = .012</text>
<path d="M619.25 547.50V542.50H638.25V547.50" stroke="#3c3c3c" stroke-width="1.15" fill="none"/>
<text x="628.75" y="539.40" text-anchor="middle" class="p">p = .002</text>
<text transform="translate(491.30 588.10) rotate(-90) scale(0.872 1)" text-anchor="middle" class="y"><tspan class="i">Serum taurine</tspan> (LC-MS peak area)</text>
<text x="679.3" y="20.1" text-anchor="middle" class="L">a</text>
<text x="679.3" y="261.6" text-anchor="middle" class="L">b</text>
<text x="679.3" y="503.1" text-anchor="middle" class="L">c</text>
</g>
</svg>
</body></html>
